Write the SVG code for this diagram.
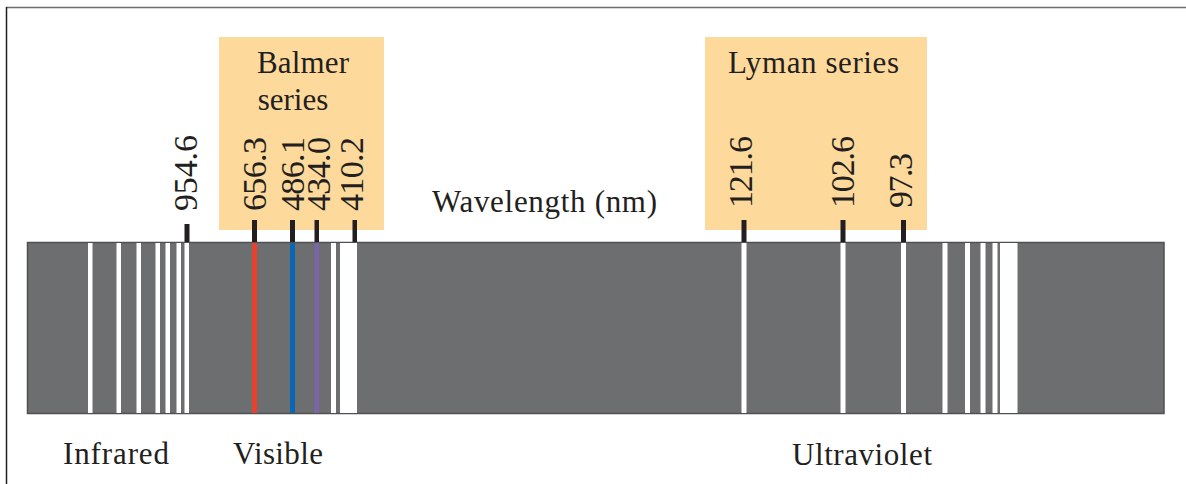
<svg xmlns="http://www.w3.org/2000/svg" width="1186" height="484" viewBox="0 0 1186 484">
<style>
.t{font-family:"Liberation Serif","Times New Roman",serif;fill:#231f20;font-size:31px}
.n{font-family:"Liberation Serif","Times New Roman",serif;fill:#231f20;font-size:34px}
.box{fill:#fed99c}
.w{fill:#ffffff}
.tick{fill:#231f20}
</style>
<rect width="1186" height="484" fill="#ffffff"/>
<line x1="6" y1="7.5" x2="1186" y2="7.5" stroke="#6d6e70" stroke-width="1.5"/>
<line x1="6.5" y1="7" x2="6.5" y2="484" stroke="#231f20" stroke-width="1.5"/>
<g id="balmer-box"><rect class="box" x="219" y="37" width="165" height="193"/>
<text class="t" x="303" y="73" text-anchor="middle" textLength="92">Balmer</text>
<text class="t" x="293" y="110" text-anchor="middle">series</text></g>
<g id="lyman-box"><rect class="box" x="705" y="37" width="222" height="193"/>
<text class="t" x="728" y="73" textLength="171">Lyman series</text></g>
<g id="axis-label"><text class="t" x="432" y="212" textLength="225">Wavelength (nm)</text></g>
<g id="spectrum">
<rect x="27.5" y="242.5" width="1136.5" height="171" fill="#6d6e70" stroke="#505052" stroke-width="1.5"/>
<rect class="w" x="88" y="243" width="4.5" height="170"/>
<rect class="w" x="116.5" y="243" width="4.5" height="170"/>
<rect class="w" x="136.5" y="243" width="4.5" height="170"/>
<rect class="w" x="155.5" y="243" width="4.5" height="170"/>
<rect class="w" x="165.5" y="243" width="4.5" height="170"/>
<rect class="w" x="176.5" y="243" width="4.5" height="170"/>
<rect class="w" x="184.5" y="243" width="4.5" height="170"/>
<rect x="252" y="243" width="5" height="170" fill="#e8412e"/>
<rect x="290" y="243" width="5" height="170" fill="#0767b4"/>
<rect x="314.5" y="243" width="4.5" height="170" fill="#7d63a8"/>
<rect class="w" x="331" y="243" width="5" height="170"/>
<rect class="w" x="340" y="243" width="17" height="170"/>
<rect class="w" x="741.5" y="243" width="5" height="170"/>
<rect class="w" x="840.5" y="243" width="5" height="170"/>
<rect class="w" x="901" y="243" width="5" height="170"/>
<rect class="w" x="942.5" y="243" width="5" height="170"/>
<rect class="w" x="965" y="243" width="5" height="170"/>
<rect class="w" x="980.5" y="243" width="5" height="170"/>
<rect class="w" x="992.5" y="243" width="5" height="170"/>
<rect class="w" x="1000" y="243" width="17.5" height="170"/>
</g>
<g id="ticks">
<rect class="tick" x="184.5" y="224" width="5" height="18"/>
<rect class="tick" x="252" y="220" width="5" height="22"/>
<rect class="tick" x="290" y="220" width="5" height="22"/>
<rect class="tick" x="314.5" y="220" width="4.5" height="22"/>
<rect class="tick" x="352.5" y="220" width="4.5" height="22"/>
<rect class="tick" x="741.5" y="220" width="5" height="22"/>
<rect class="tick" x="840.5" y="220" width="5" height="22"/>
<rect class="tick" x="901" y="220" width="5" height="22"/>
</g>
<g id="wavelengths">
<text class="n" transform="translate(197,211) rotate(-90)" textLength="76">954.6</text>
<text class="n" transform="translate(266,211) rotate(-90)" textLength="74">656.3</text>
<text class="n" transform="translate(304,211) rotate(-90)" textLength="74">486.1</text>
<text class="n" transform="translate(330,211) rotate(-90)" textLength="74">434.0</text>
<text class="n" transform="translate(363,211) rotate(-90)" textLength="74">410.2</text>
<text class="n" transform="translate(752,208) rotate(-90)" textLength="72">121.6</text>
<text class="n" transform="translate(854,208) rotate(-90)" textLength="72">102.6</text>
<text class="n" transform="translate(912,208) rotate(-90)" textLength="55">97.3</text>
</g>
<g id="region-labels">
<text class="t" x="63" y="464" textLength="106">Infrared</text>
<text class="t" x="233" y="464" textLength="90">Visible</text>
<text class="t" x="792" y="465" textLength="140">Ultraviolet</text>
</g>
</svg>
